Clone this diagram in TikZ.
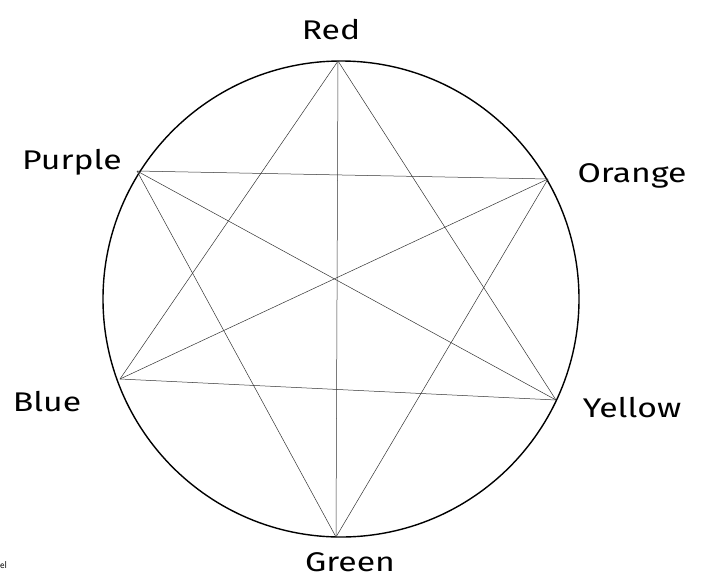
\documentclass[tikz,border=0pt]{standalone}
\usepackage{fontspec}
\newfontfamily\hand{Fira Sans}[FakeStretch=1.25]
\begin{document}
\begin{tikzpicture}[x=1pt,y=-1pt,
  chord/.style={line width=0.5pt, black!80},
  rim/.style={line width=1.4pt, black},
  lbl/.style={font=\hand\fontsize{27}{30}\selectfont, inner sep=0pt}]
\useasboundingbox (0,0) rectangle (707,582);
\draw[rim] (341,299) circle [radius=238];
\coordinate (R) at (338,61);
\coordinate (O) at (548,179);
\coordinate (Y) at (556,400);
\coordinate (G) at (336,537);
\coordinate (B) at (120,379);
\coordinate (P) at (137,171);
\foreach \a/\b in {R/B,R/Y,B/Y,P/O,O/G,G/P,R/G,P/Y,O/B}
  \draw[chord] (\a) -- (\b);
\node[lbl] (tR) at (331,30) {Red};
\node[lbl] (tO) at (632,176) {Orange};
\node[lbl] (tY) at (632,408) {Yellow};
\node[lbl] (tG) at (350,562) {Green};
\node[lbl] (tB) at (47,402) {Blue};
\node[lbl] (tP) at (72,162) {Purple};
\node[font=\sffamily\fontsize{10}{12}\selectfont, anchor=west, inner sep=0pt] (tel) at (0,565) {el};
\end{tikzpicture}
\end{document}
